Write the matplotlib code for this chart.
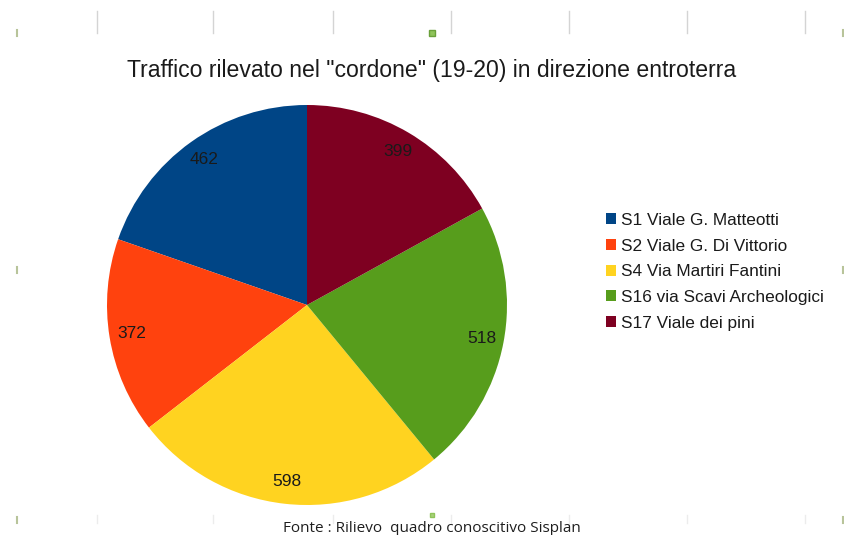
import matplotlib
matplotlib.use("Agg")
import matplotlib.pyplot as plt
from matplotlib.lines import Line2D

# Traffic counts at the cordon stations (19-20 h), inbound direction
stations = ["S1 Viale G. Matteotti", "S2 Viale G. Di Vittorio", "S4 Via Martiri Fantini",
            "S16 via Scavi Archeologici", "S17 Viale dei pini"]
vehicles = [462, 372, 598, 518, 399]
colors = ["#004586", "#ff420e", "#ffd320", "#579d1c", "#7e0021"]

title = 'Traffico rilevato nel "cordone" (19-20) in direzione entroterra'
source = "Fonte : Rilievo  quadro conoscitivo Sisplan"

W, H = 845, 535
fig = plt.figure(figsize=(W / 100, H / 100), dpi=100)
fig.patch.set_facecolor("white")

# faint frame marks along the top and bottom edges of the chart area
deco = fig.add_axes([0, 0, 1, 1])
deco.set_xlim(0, W)
deco.set_ylim(H, 0)
deco.axis("off")
for x in [97, 213, 333, 451, 569, 687, 805]:
    deco.add_line(Line2D([x, x], [11, 33], color="#d4d4d4", lw=1))
    deco.add_line(Line2D([x, x], [515, 523], color="#ececec", lw=1))
for x, y in [(17, 33), (17, 520), (17, 270), (843, 270), (843, 33), (843, 520)]:
    deco.add_line(Line2D([x, x], [y - 3, y + 3], color="#b8c49a", lw=1.5))
deco.plot([432], [33], marker="s", ms=4, color="#8fc45a", mec="#6aa03a")
deco.plot([432], [515], marker="s", ms=3, color="#a8d07a", mec="#8fc45a")

# pie
cx, cy, r = 307, 305, 200
ax = fig.add_axes([(cx - r) / W, (H - cy - r) / H, 2 * r / W, 2 * r / H])
wedges, texts = ax.pie(vehicles, colors=colors, startangle=90, counterclock=True,
                       labels=[str(v) for v in vehicles], labeldistance=0.89,
                       wedgeprops=dict(linewidth=0),
                       textprops=dict(fontsize=12.5, family="Liberation Sans",
                                      color="#1a1a1a", ha="center", va="center"))
ax.set_xlim(-1, 1)
ax.set_ylim(-1, 1)
ax.set_aspect("equal")

fig.text(432 / W, 1 - 71 / H, title, ha="center", va="center",
         fontsize=16.6, family="Liberation Sans", color="#1a1a1a")

leg = fig.legend(wedges, stations, loc="upper left",
                 bbox_to_anchor=(606 / W, 1 - 213 / H), frameon=False,
                 prop=dict(family="Liberation Sans", size=12.4),
                 handlelength=0.6, handleheight=0.6, handletextpad=0.3,
                 labelspacing=0.62, borderaxespad=0, borderpad=0)
for t in leg.get_texts():
    t.set_color("#1a1a1a")

fig.text(432 / W, 1 - 529 / H, source, ha="center", va="center",
         fontsize=11, family="Open Sans", color="#1e1e1e")

fig.savefig("out.png", dpi=100, facecolor="white")
